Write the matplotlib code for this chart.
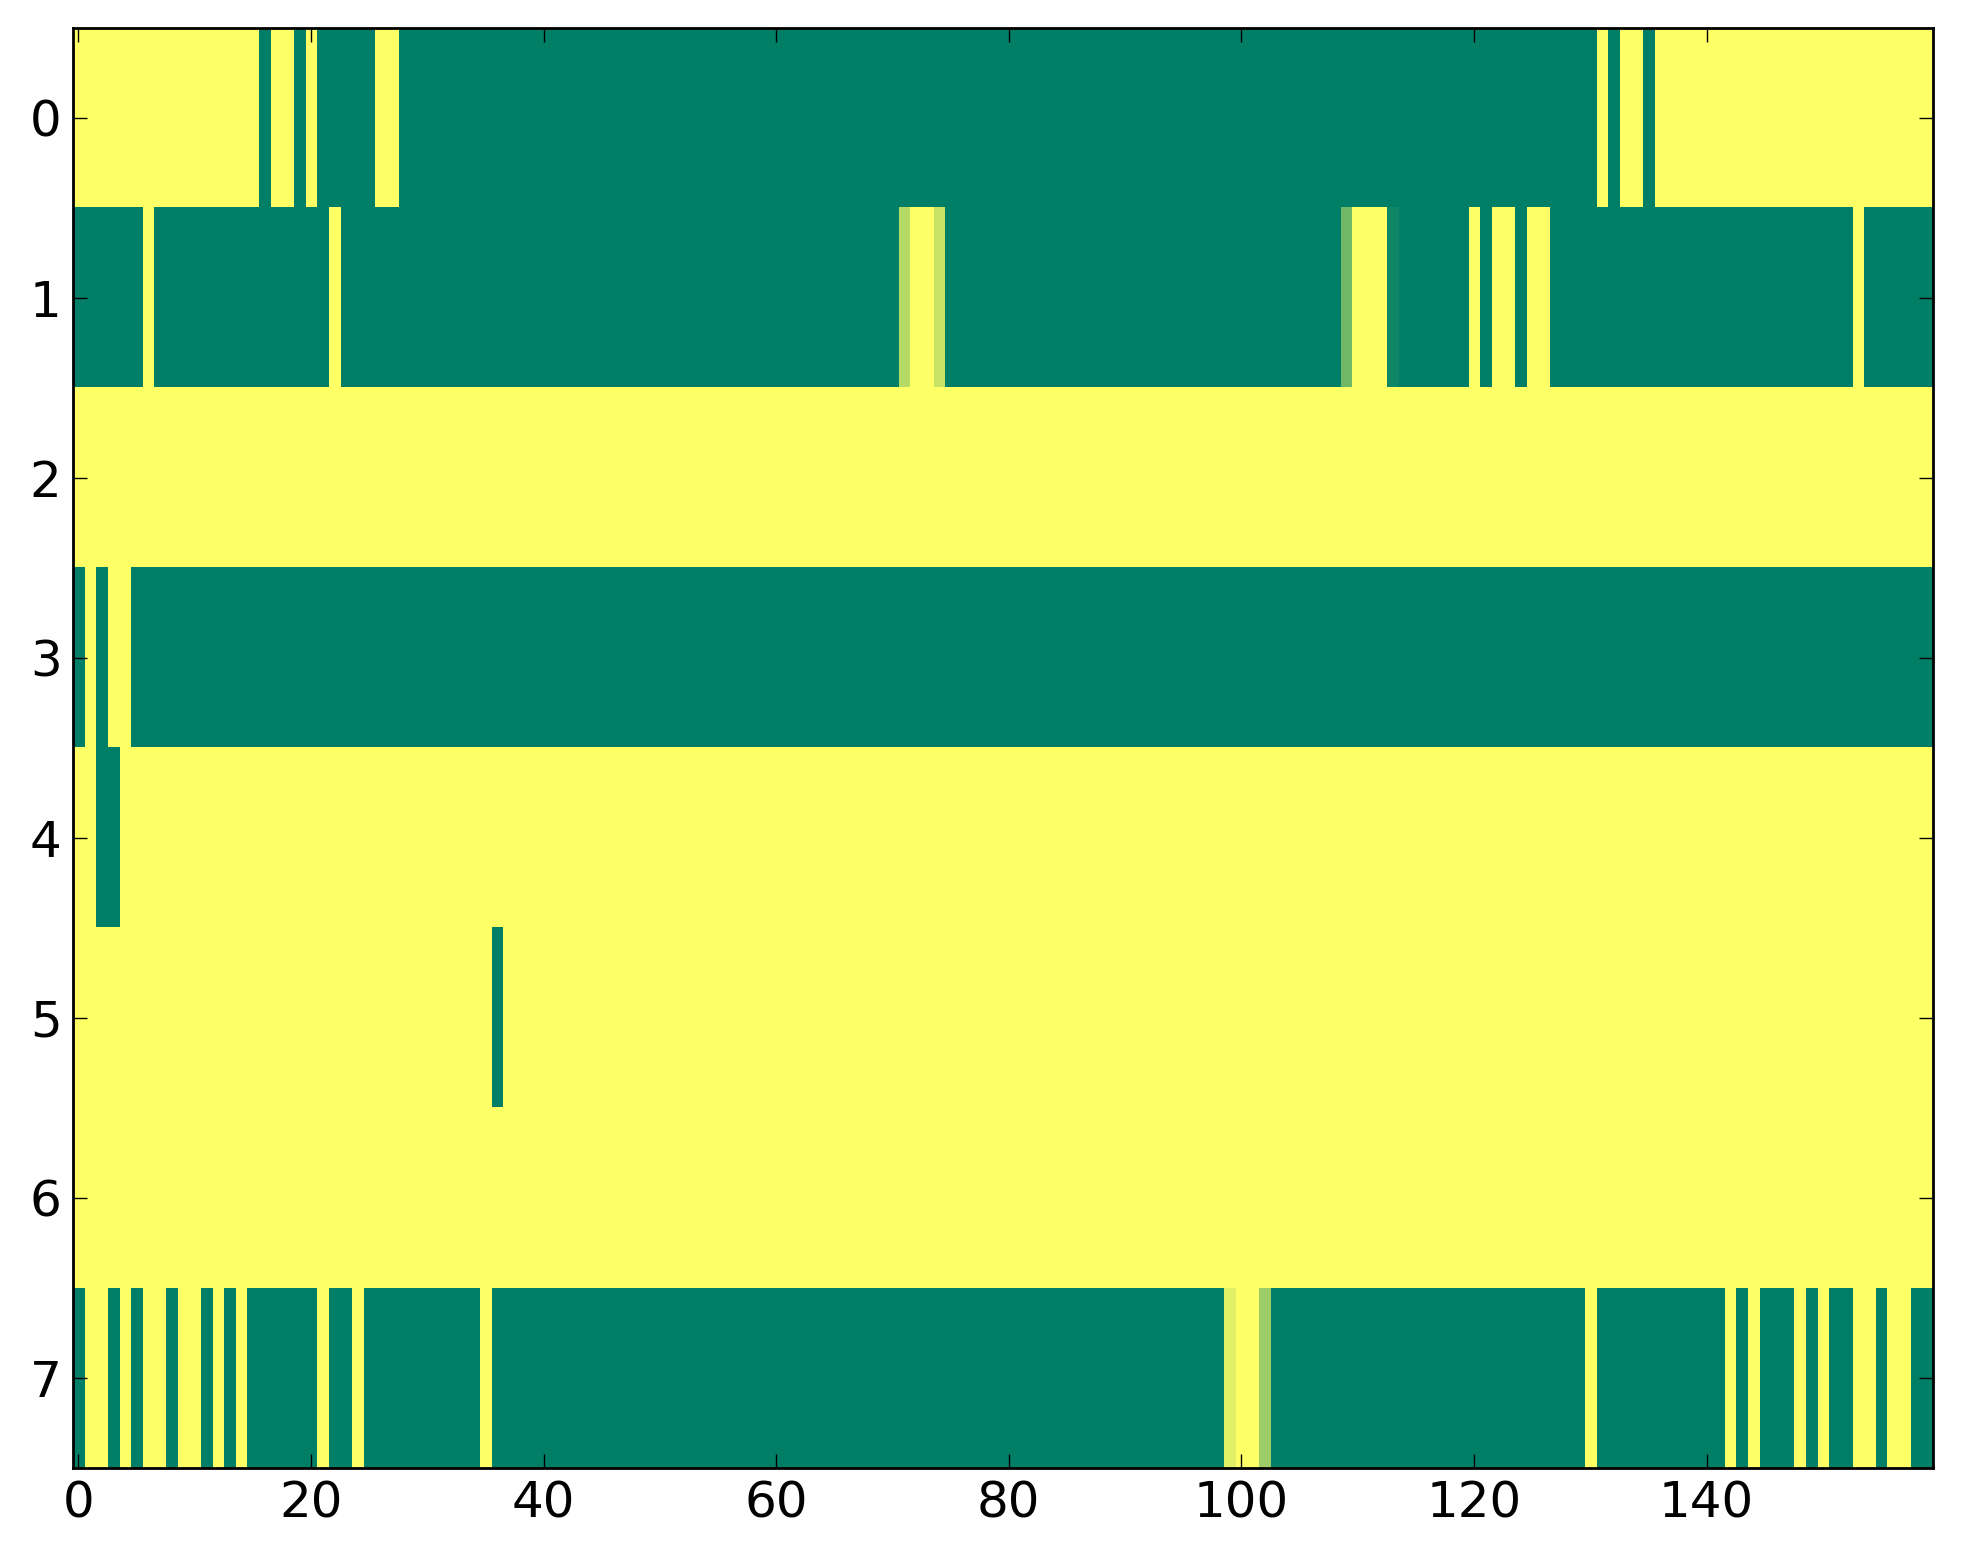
import numpy as np
import matplotlib
matplotlib.use('Agg')
import matplotlib.pyplot as plt

# each row as (value, run length) pairs, left to right, 160 columns
row0 = [(1, 16), (0, 1), (1, 2), (0, 1), (1, 1), (0, 5), (1, 2), (0, 103),
        (1, 1), (0, 1), (1, 2), (0, 1), (1, 24)]
row1 = [(0, 6), (1, 1), (0, 15), (1, 1), (0, 48), (0.71, 1), (1, 2), (0.78, 1),
        (0, 34), (0.44, 1), (1, 3), (0.06, 1), (0, 6), (1, 1), (0, 1), (1, 2),
        (0, 1), (1, 2), (0, 26), (1, 1), (0, 6)]
row2 = [(1, 160)]
row3 = [(0, 1), (1, 1), (0, 1), (1, 2), (0, 155)]
row4 = [(1, 2), (0, 2), (1, 156)]
row5 = [(1, 36), (0, 1), (1, 123)]
row6 = [(1, 160)]
row7 = [(0, 1), (1, 2), (0, 1), (1, 1), (0, 1), (1, 2), (0, 1), (1, 2), (0, 1),
        (1, 1), (0, 1), (1, 1), (0, 6), (1, 1), (0, 2), (1, 1), (0, 10), (1, 1),
        (0, 63), (0.88, 1), (1, 2), (0.61, 1), (0, 27), (1, 1), (0, 11), (1, 1),
        (0, 1), (1, 1), (0, 3), (1, 1), (0, 1), (1, 1), (0, 2), (1, 2), (0, 1),
        (1, 2), (0, 2)]

rows = [row0, row1, row2, row3, row4, row5, row6, row7]
x_ticks = [0, 20, 40, 60, 80, 100, 120, 140]
y_ticks = [0, 1, 2, 3, 4, 5, 6, 7]


def expand(runs):
    vals = [v for v, n in runs]
    lens = [n for v, n in runs]
    return np.repeat(vals, lens)


data = np.array([expand(r) for r in rows])

fig = plt.figure(figsize=(9.815, 7.82), dpi=200)
ax = fig.add_axes([0.037, 0.0614, 0.9479, 0.921])
ax.imshow(data, cmap='summer', vmin=0, vmax=1, aspect='auto',
          interpolation='nearest')

ax.set_xticks(x_ticks)
ax.set_yticks(y_ticks)
ax.tick_params(direction='in', top=True, right=True, length=5, width=0.5,
               labelsize=18, pad=4)
for s in ax.spines.values():
    s.set_linewidth(1.0)

fig.savefig('out.png', dpi=200)
